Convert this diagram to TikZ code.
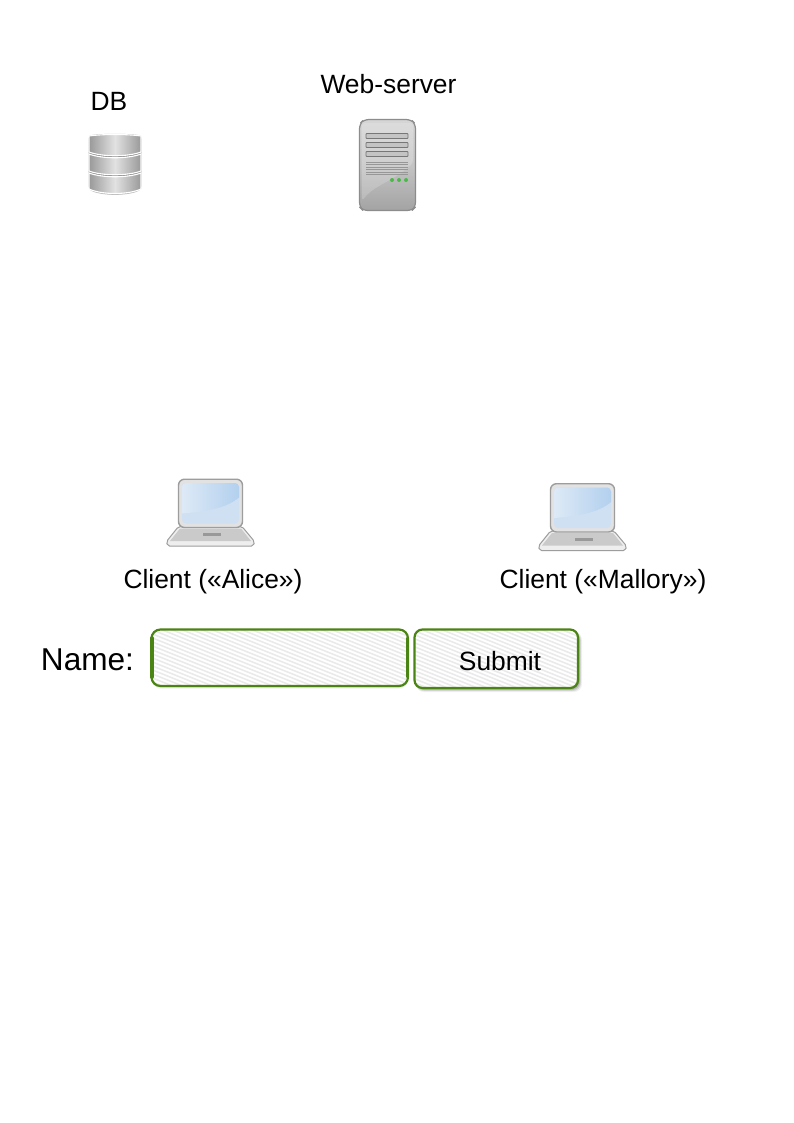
\documentclass[tikz,border=0pt]{standalone}
\usepackage{fontspec}
\setmainfont{Liberation Sans}
\definecolor{frameGreen}{HTML}{4A8412}
\definecolor{hatchGrey}{HTML}{EAEAEA}
\definecolor{iconEdge}{HTML}{8C8C8C}
\definecolor{iconLight}{HTML}{E2E2E2}
\definecolor{iconMid}{HTML}{C4C4C4}
\definecolor{iconDark}{HTML}{999999}
\definecolor{screenA}{HTML}{CFE0F2}
\definecolor{screenB}{HTML}{B2D0EE}
\tikzset{
  lbl/.style={font=\fontsize{26.4}{30}\selectfont,text=black,inner sep=0pt,anchor=base},
  namelbl/.style={font=\fontsize{31.6}{36}\selectfont,text=black,inner sep=0pt,anchor=base},
  disc/.style={draw=white,line width=1.1pt,left color=iconDark,right color=iconDark,middle color=iconLight},
  hatchline/.style={draw=hatchGrey,line width=1.5pt},
  pics/dbicon/.style={code={
    \draw[iconEdge!60,line width=1.2pt,fill=iconEdge,rounded corners=3pt] (1,1) .. controls (15,-1) and (39,-1) .. (53,1) -- (53,54) .. controls (40,60.5) and (14,60.5) .. (1,54) -- cycle;
    \path[disc] (1,38) .. controls (14,43) and (40,43) .. (53,38) -- (53,54) .. controls (40,60) and (14,60) .. (1,54) -- cycle;
    \path[disc] (1,19) .. controls (14,24) and (40,24) .. (53,19) -- (53,36) .. controls (40,41) and (14,41) .. (1,36) -- cycle;
    \path[disc] (1,1) .. controls (15,-1) and (39,-1) .. (53,1) -- (53,17) .. controls (40,22) and (14,22) .. (1,17) -- cycle;
  }},
  pics/servericon/.style={code={
    \draw[iconEdge,line width=1.2pt,rounded corners=5pt,bottom color=iconDark!90,top color=iconMid!70!white,middle color=iconMid]
      (0.5,5) -- (5,0.5) -- (52,0.5) -- (56.5,5) -- (56.5,88) -- (53,91.5) -- (4,91.5) -- (0.5,88) -- cycle;
    \fill[white,opacity=.18,rounded corners=3pt] (3,82) .. controls (15,66) and (35,62) .. (54,44) -- (54,4) -- (3,4) -- cycle;
    \draw[iconEdge!85!black,line width=.8pt,fill=iconMid,rounded corners=.7pt] (7,14.5) rectangle (49,19.5);
    \draw[iconEdge!85!black,line width=.8pt,fill=iconMid,rounded corners=.7pt] (7,23.5) rectangle (49,28.5);
    \draw[iconEdge!85!black,line width=.8pt,fill=iconMid,rounded corners=.7pt] (7,32.5) rectangle (49,37.5);
    \foreach \yy in {43,45.5,48,50.5,53,55.5}
      \draw[iconEdge!90,line width=.7pt] (7,\yy) -- (49,\yy);
    \foreach \xx in {33,40,47}
      \fill[green!60!black!70] (\xx,61) circle (2pt);
  }},
  pics/laptopicon/.style={code={
    \draw[iconEdge!85,line width=1pt,fill=iconLight!60!white,rounded corners=2pt]
      (12.5,48) -- (0.5,63) -- (1.5,67.5) -- (87.5,67.5) -- (88.5,63) -- (76,48) -- cycle;
    \fill[iconMid!90!white] (4,62.5) -- (14,50) -- (75,50) -- (85,62.5) -- cycle;
    \fill[iconDark] (37,54.5) rectangle (55,57.5);
    \draw[iconEdge!85,line width=1.4pt,fill=iconLight,rounded corners=6pt] (12.5,.7) rectangle (76.5,49);
    \fill[screenA,rounded corners=4pt] (16,4.5) rectangle (73,45);
    \begin{scope}
      \clip[rounded corners=4pt] (16,4.5) rectangle (73,45);
      \shade[left color=screenA!70!white,right color=screenB] (16,4.5) -- (73,4.5) -- (73,19) .. controls (60,30) and (40,33) .. (16,35) -- cycle;
    \end{scope}
  }}
}
\begin{document}
\begin{tikzpicture}[x=1pt,y=-1pt]
\useasboundingbox (0,0) rectangle (794,1123);
\fill[white] (0,0) rectangle (794,1123);

\node[lbl] (dblabel) at (109,111) {DB};
\pic (db) at (88,135) {dbicon};
\node[lbl] (weblabel) at (388.5,94) {Web-server};
\pic (server) at (359,119) {servericon};

\pic (alice) at (166,478.5) {laptopicon};
\node[lbl] (alicelabel) at (213,588) {Client («Alice»)};
\pic (mallory) at (538,483) {laptopicon};
\node[lbl] (mallorylabel) at (603,588) {Client («Mallory»)};

\node[namelbl] (namelabel) at (87.5,670) {Name:};

% input field
\foreach \o/\a in {3/.03,2/.05,1/.07}
  \fill[black,opacity=\a,rounded corners=9pt] (152,632) rectangle (408,686+\o);
\begin{scope}
  \clip[rounded corners=9pt] (151.5,629.5) rectangle (408,686);
  \fill[white] (150,628) rectangle (410,688);
  \foreach \k in {-20,-10,...,412}
    \draw[hatchline] (\k,625) -- (\k+160,689);
\end{scope}
\draw[frameGreen,line width=2.2pt,rounded corners=9pt] (151.5,629.5) rectangle (408,686);
\draw[frameGreen,line width=3.6pt,line cap=round] (152,638) -- (152,677);
\draw[frameGreen,line width=2.8pt,line cap=round] (407.8,638) -- (407.8,677);

% submit button
\foreach \o/\a in {4/.06,3/.10,2/.14,1/.18}
  \fill[black,opacity=\a,rounded corners=8pt] (416,632) rectangle (578+\o,688+\o);
\begin{scope}
  \clip[rounded corners=8pt] (414.5,629.5) rectangle (578,688);
  \fill[white] (413,628) rectangle (580,690);
  \foreach \k in {250,260,...,580}
    \draw[hatchline] (\k,625) -- (\k+160,689);
\end{scope}
\draw[frameGreen,line width=2.2pt,rounded corners=8pt] (414.5,629.5) rectangle (578,688);
\node[lbl] (submitlabel) at (500,670) {Submit};
\end{tikzpicture}
\end{document}
